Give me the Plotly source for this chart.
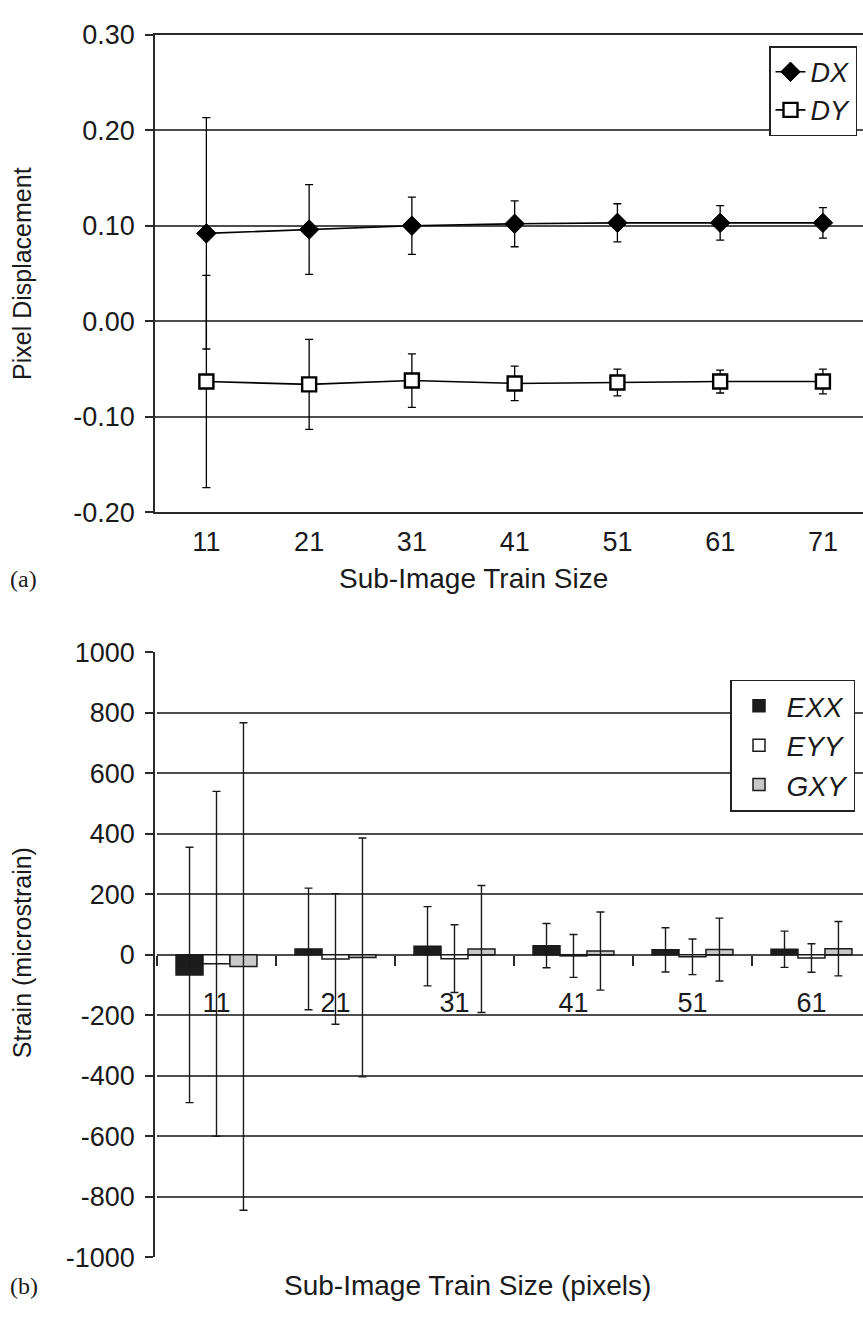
import plotly.graph_objects as go

# ---------------- data ----------------
train_sizes = ["11", "21", "31", "41", "51", "61", "71"]
dx_vals = [0.092, 0.096, 0.100, 0.102, 0.103, 0.103, 0.103]
dx_err = [0.121, 0.047, 0.030, 0.024, 0.020, 0.018, 0.016]
dy_vals = [-0.063, -0.066, -0.062, -0.065, -0.064, -0.063, -0.063]
dy_err = [0.111, 0.047, 0.028, 0.018, 0.014, 0.012, 0.013]

strain_sizes = ["11", "21", "31", "41", "51", "61"]
exx_vals = [-67, 19, 28, 30, 16, 18]
exx_err = [422, 201, 131, 73, 73, 60]
eyy_vals = [-30, -14, -13, -4, -7, -11]
eyy_err = [570, 216, 112, 71, 59, 47]
gxy_vals = [-39, -9, 19, 12, 17, 20]
gxy_err = [806, 395, 210, 129, 104, 90]

disp_ticks = [-0.2, -0.1, 0.0, 0.1, 0.2, 0.3]
disp_tick_labels = ["-0.20", "-0.10", "0.00", "0.10", "0.20", "0.30"]
strain_ticks = [-1000, -800, -600, -400, -200, 0, 200, 400, 600, 800, 1000]
strain_tick_labels = ["-1000", "-800", "-600", "-400", "-200", "0", "200", "400", "600", "800", "1000"]

# ---------------- layout helpers (page pixels -> paper fractions) ----------------
W, H = 863, 1323


def fx(p):
    return p / W


def fy(p):
    return 1 - p / H


FONT = "Liberation Sans, Arial, Helvetica, sans-serif"
GRID = "#4d4d4d"
AX = "#2a2a2a"
TXT = "#1a1a1a"

top_dom = [fy(509), fy(20)]
bot_dom = [fy(1271), fy(652)]
top_xdom = [fx(155), 1.0]
bot_xdom = [fx(157), 1.0]

top_range = [-0.2, 0.3]
bot_range = [-1000, 1000]
zero_top = top_dom[0] + (0 - top_range[0]) / (top_range[1] - top_range[0]) * (top_dom[1] - top_dom[0])
zero_bot = bot_dom[0] + (0 - bot_range[0]) / (bot_range[1] - bot_range[0]) * (bot_dom[1] - bot_dom[0])

top_xrange = [-0.5, 6.39]
bot_xrange = [-0.5, 5.433]

fig = go.Figure()

# ---------------- top chart ----------------
fig.add_trace(go.Scatter(
    x=train_sizes, y=dx_vals, name="DX", mode="lines+markers",
    line=dict(color="black", width=1.6),
    marker=dict(symbol="diamond", size=15, color="black", line=dict(color="black", width=1)),
    error_y=dict(type="data", array=dx_err, visible=True, color="black", thickness=1.3, width=4),
    xaxis="x", yaxis="y", legend="legend",
))
fig.add_trace(go.Scatter(
    x=train_sizes, y=dy_vals, name="DY", mode="lines+markers",
    line=dict(color="black", width=1.6),
    marker=dict(symbol="square", size=14, color="white", line=dict(color="black", width=2.4)),
    error_y=dict(type="data", array=dy_err, visible=True, color="black", thickness=1.3, width=4),
    xaxis="x", yaxis="y", legend="legend",
))

# ---------------- bottom chart ----------------
bar_specs = [
    ("EXX", exx_vals, exx_err, "#1c1c1c"),
    ("EYY", eyy_vals, eyy_err, "white"),
    ("GXY", gxy_vals, gxy_err, "#c9c9c9"),
]
for name, vals, errs, col in bar_specs:
    fig.add_trace(go.Bar(
        x=strain_sizes, y=vals, name=name,
        marker=dict(color=col, line=dict(color="#1a1a1a", width=1.5)),
        error_y=dict(type="data", array=errs, visible=True, color="#1a1a1a", thickness=1.4, width=4),
        xaxis="x2", yaxis="y2", legend="legend2",
    ))

axis_font = dict(family=FONT, size=27, color=TXT)

fig.update_layout(
    width=W, height=H,
    margin=dict(l=0, r=0, t=0, b=0),
    paper_bgcolor="white", plot_bgcolor="white",
    font=dict(family=FONT, color=TXT),
    barmode="group", bargap=0.32, bargroupgap=0.0,
    xaxis=dict(
        domain=top_xdom, anchor="y", type="category", range=top_xrange,
        showline=True, mirror=True, linecolor=AX, linewidth=1.6,
        ticks="", showgrid=False, zeroline=False,
        tickfont=axis_font, ticklabelstandoff=4,
    ),
    xaxis3=dict(
        overlaying="x", anchor="free", position=zero_top, type="linear",
        range=top_xrange, tickvals=[0.5, 1.5, 2.5, 3.5, 4.5, 5.5],
        ticks="outside", ticklen=9, tickwidth=1.5, tickcolor=AX,
        showticklabels=False, showgrid=False, zeroline=False, showline=False,
    ),
    yaxis=dict(
        domain=top_dom, anchor="x", range=top_range,
        tickvals=disp_ticks, ticktext=disp_tick_labels,
        showgrid=True, gridcolor=GRID, gridwidth=1.5,
        zeroline=True, zerolinecolor=GRID, zerolinewidth=1.5,
        showline=True, linecolor=AX, linewidth=1.6,
        ticks="outside", ticklen=8, tickwidth=1.5, tickcolor=AX,
        tickfont=axis_font, ticklabelstandoff=5,
    ),
    xaxis2=dict(
        domain=bot_xdom, anchor="free", position=zero_bot, type="category",
        range=bot_xrange, tickson="boundaries",
        ticks="outside", ticklen=10, tickwidth=1.5, tickcolor=AX,
        showline=False, showgrid=False, zeroline=False,
        tickfont=axis_font, ticklabelstandoff=29,
    ),
    xaxis4=dict(
        overlaying="x2", anchor="y2", type="linear", range=bot_xrange,
        showline=True, mirror=True, linecolor=AX, linewidth=1.6,
        ticks="", showticklabels=False, showgrid=False, zeroline=False,
    ),
    yaxis2=dict(
        domain=bot_dom, anchor="x4", range=bot_range,
        tickvals=strain_ticks, ticktext=strain_tick_labels,
        showgrid=True, gridcolor=GRID, gridwidth=1.5,
        zeroline=True, zerolinecolor=GRID, zerolinewidth=1.5,
        showline=True, linecolor=AX, linewidth=1.6,
        ticks="outside", ticklen=8, tickwidth=1.5, tickcolor=AX,
        tickfont=axis_font, ticklabelstandoff=5,
    ),
    legend=dict(
        x=fx(857), xanchor="right", y=fy(32), yanchor="top",
        bgcolor="white", bordercolor="#222", borderwidth=1.5,
        font=dict(family=FONT, size=27, style="italic", color=TXT),
        itemwidth=30, tracegroupgap=0,
    ),
    legend2=dict(
        x=fx(855), xanchor="right", y=fy(680), yanchor="top",
        bgcolor="white", bordercolor="#222", borderwidth=1.5,
        font=dict(family=FONT, size=28, style="italic", color=TXT),
        itemwidth=45, tracegroupgap=0,
    ),
)

vtitle_font = dict(family=FONT, size=25, color=TXT)
htitle_font = dict(family=FONT, size=28, color=TXT)
serif_font = dict(family="Liberation Serif, Times New Roman, serif", size=24, color=TXT)
fig.add_annotation(text="Pixel Displacement", textangle=-90, x=fx(22), y=fy(265),
                   xref="paper", yref="paper", xanchor="center", yanchor="middle",
                   showarrow=False, font=vtitle_font)
fig.add_annotation(text="Strain (microstrain)", textangle=-90, x=fx(22), y=fy(960),
                   xref="paper", yref="paper", xanchor="center", yanchor="middle",
                   showarrow=False, font=vtitle_font)
fig.add_annotation(text="Sub-Image Train Size", x=fx(473), y=fy(577),
                   xref="paper", yref="paper", xanchor="center", yanchor="middle",
                   showarrow=False, font=htitle_font)
fig.add_annotation(text="Sub-Image Train Size (pixels)", x=fx(467), y=fy(1300),
                   xref="paper", yref="paper", xanchor="center", yanchor="middle",
                   showarrow=False, font=htitle_font)
fig.add_annotation(text="(a)", x=fx(8), y=fy(577), xref="paper", yref="paper",
                   xanchor="left", yanchor="middle", showarrow=False, font=serif_font)
fig.add_annotation(text="(b)", x=fx(8), y=fy(1300), xref="paper", yref="paper",
                   xanchor="left", yanchor="middle", showarrow=False, font=serif_font)

# remove the default page margin so the figure fills the 863x1323 window exactly
page_fix = "document.body.style.margin='0';document.body.style.overflow='hidden';"
fig.write_html("out.html", post_script=page_fix, config={"displayModeBar": False})
